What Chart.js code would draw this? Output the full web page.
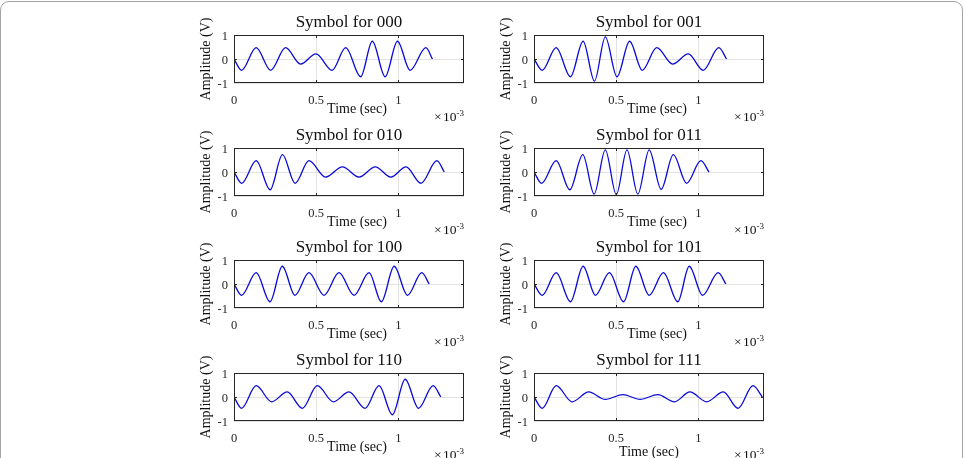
<!DOCTYPE html>
<html>
<head>
<meta charset="utf-8">
<script src="https://cdn.jsdelivr.net/npm/chart.js@4.4.0/dist/chart.umd.min.js"></script>
<style>
  html, body { margin: 0; padding: 0; background: #fff; overflow: hidden; }
  #frame { position: absolute; left: 0; top: 1px; width: 961px; height: 480px; border: 1px solid #a3a3a3; border-radius: 9px; }
  canvas { position: absolute; }
</style>
</head>
<body>
<div id="frame"></div>
<script>
const symbols = ['000', '001', '010', '011', '100', '101', '110', '111'];

// turning points of each waveform, time in units of 1e-3 s, amplitude in V
const t000 = [0, 0.046, 0.135, 0.223, 0.314, 0.405, 0.499, 0.597, 0.68, 0.771, 0.842, 0.92, 0.995, 1.072, 1.168, 1.208];
const a000 = [0, -0.47, 0.47, -0.47, 0.47, -0.21, 0.21, -0.47, 0.47, -0.74, 0.74, -0.74, 0.74, -0.47, 0.47, 0];

const t001 = [0, 0.05, 0.135, 0.222, 0.299, 0.368, 0.434, 0.505, 0.582, 0.659, 0.747, 0.844, 0.939, 1.03, 1.125, 1.172];
const a001 = [0, -0.47, 0.47, -0.74, 0.74, -0.92, 0.92, -0.74, 0.74, -0.47, 0.47, -0.21, 0.21, -0.47, 0.47, 0];

const t010 = [0, 0.047, 0.135, 0.22, 0.295, 0.372, 0.456, 0.557, 0.66, 0.761, 0.86, 0.955, 1.047, 1.138, 1.235, 1.28];
const a010 = [0, -0.47, 0.47, -0.74, 0.72, -0.47, 0.47, -0.21, 0.21, -0.21, 0.21, -0.21, 0.21, -0.47, 0.47, 0];

const t011 = [0, 0.046, 0.135, 0.218, 0.297, 0.366, 0.434, 0.501, 0.566, 0.632, 0.701, 0.774, 0.848, 0.929, 1.016, 1.065];
const a011 = [0, -0.47, 0.47, -0.74, 0.72, -0.92, 0.92, -0.94, 0.92, -0.92, 0.92, -0.72, 0.72, -0.47, 0.47, 0];

const t100 = [0, 0.046, 0.135, 0.219, 0.294, 0.371, 0.456, 0.548, 0.639, 0.731, 0.822, 0.897, 0.975, 1.056, 1.143, 1.188];
const a100 = [0, -0.47, 0.47, -0.74, 0.74, -0.47, 0.47, -0.47, 0.47, -0.47, 0.47, -0.74, 0.74, -0.47, 0.47, 0];

const t101 = [0, 0.05, 0.135, 0.222, 0.299, 0.374, 0.459, 0.545, 0.62, 0.701, 0.788, 0.875, 0.945, 1.026, 1.121, 1.168];
const a101 = [0, -0.47, 0.47, -0.74, 0.74, -0.47, 0.47, -0.74, 0.74, -0.47, 0.47, -0.74, 0.74, -0.47, 0.47, 0];

const t110 = [0, 0.046, 0.135, 0.229, 0.324, 0.416, 0.507, 0.605, 0.7, 0.798, 0.883, 0.964, 1.042, 1.123, 1.212, 1.259];
const a110 = [0, -0.47, 0.47, -0.2, 0.21, -0.47, 0.47, -0.2, 0.21, -0.47, 0.47, -0.74, 0.74, -0.47, 0.47, 0];

const t111 = [0, 0.05, 0.135, 0.232, 0.333, 0.434, 0.541, 0.646, 0.754, 0.855, 0.949, 1.051, 1.152, 1.242, 1.333, 1.39];
const a111 = [0, -0.47, 0.47, -0.2, 0.21, -0.1, 0.1, -0.1, 0.1, -0.2, 0.21, -0.2, 0.21, -0.47, 0.47, 0];

const times = [t000, t001, t010, t011, t100, t101, t110, t111];
const amps = [a000, a001, a010, a011, a100, a101, a110, a111];

const xTicks = [0, 0.5, 1];
const xTickLabels = ['0', '0.5', '1'];
const yTicks = [-1, 0, 1];
const yTickLabels = ['-1', '0', '1'];

// panel layout (canvas position)
const colLeft = [174, 474];
const rowTop = [5, 118, 230, 343];

Chart.defaults.font.family = '"Liberation Serif", serif';
Chart.defaults.color = '#262626';

// MATLAB style box, inward ticks, title and axis labels
const panelText = {
  id: 'panelText',
  afterDraw(chart, args, o) {
    const ctx = chart.ctx;
    const a = chart.chartArea;
    const cx = (a.left + a.right) / 2;
    const cy = (a.top + a.bottom) / 2;
    const xs = chart.scales.x, ys = chart.scales.y;
    ctx.save();
    ctx.strokeStyle = '#262626';
    ctx.lineWidth = 1;
    ctx.strokeRect(a.left + 0.5, a.top + 0.5, a.right - a.left - 1, a.bottom - a.top - 1);
    ctx.beginPath();
    xTicks.slice(1).forEach(v => {
      const px = Math.round(xs.getPixelForValue(v)) + 0.5;
      ctx.moveTo(px, a.bottom); ctx.lineTo(px, a.bottom - 3);
      ctx.moveTo(px, a.top); ctx.lineTo(px, a.top + 3);
    });
    const py = Math.round(ys.getPixelForValue(0)) + 0.5;
    ctx.moveTo(a.left, py); ctx.lineTo(a.left + 3, py);
    ctx.moveTo(a.right, py); ctx.lineTo(a.right - 3, py);
    ctx.stroke();

    ctx.fillStyle = '#111';
    ctx.textBaseline = 'alphabetic';
    ctx.textAlign = 'center';
    ctx.font = '17px "Liberation Serif"';
    ctx.fillText(o.title, cx, a.top - 8);
    ctx.font = '14px "Liberation Serif"';
    ctx.fillText('Time (sec)', cx + o.xShift, a.bottom + o.xDrop);

    ctx.textAlign = 'right';
    ctx.font = '9px "Liberation Serif"';
    ctx.fillText('-3', a.right, a.bottom + 33);
    const sw = ctx.measureText('-3').width;
    ctx.font = '13.5px "Liberation Serif"';
    ctx.fillText('10', a.right - sw, a.bottom + 38);
    const tw = ctx.measureText('10').width;
    ctx.fillText('\u00d7', a.right - sw - tw - 1.5, a.bottom + 38);

    ctx.translate(a.left - 24, cy);
    ctx.rotate(-Math.PI / 2);
    ctx.textAlign = 'center';
    ctx.font = '14px "Liberation Serif"';
    ctx.fillText('Amplitude (V)', 0, 0);
    ctx.restore();
  }
};

symbols.forEach((s, i) => {
  const cv = document.createElement('canvas');
  cv.width = 300;
  cv.height = 123;
  cv.style.left = colLeft[i % 2] + 'px';
  cv.style.top = rowTop[Math.floor(i / 2)] + 'px';
  document.body.appendChild(cv);
  const last = s === '111';

  new Chart(cv, {
    type: 'line',
    data: {
      datasets: [{
        data: times[i].map((t, k) => ({ x: t, y: amps[i][k] })),
        borderColor: '#0a0ad8',
        borderWidth: 1.3,
        pointRadius: 0,
        cubicInterpolationMode: 'monotone',
        fill: false
      }]
    },
    options: {
      responsive: false,
      animation: false,
      layout: { padding: { top: 30, right: 10, left: 0, bottom: 0 } },
      plugins: {
        legend: { display: false },
        tooltip: { enabled: false },
        panelText: { title: 'Symbol for ' + s, xShift: last ? 0 : 8, xDrop: last ? 35 : 30 }
      },
      scales: {
        x: {
          type: 'linear',
          min: 0,
          max: 1.4,
          afterFit: sc => { sc.height = 45; },
          afterBuildTicks: sc => { sc.ticks = xTicks.map(v => ({ value: v })); },
          ticks: {
            callback: (v, idx) => xTickLabels[idx],
            padding: 10,
            font: { size: 12.5 },
            maxRotation: 0,
            autoSkip: false
          },
          grid: { color: '#e2e2e2', drawTicks: false },
          border: { display: false }
        },
        y: {
          type: 'linear',
          min: -1,
          max: 1,
          afterFit: sc => { sc.width = 60; },
          afterBuildTicks: sc => { sc.ticks = yTicks.map(v => ({ value: v })); },
          ticks: {
            callback: (v, idx) => yTickLabels[idx],
            padding: 6,
            labelOffset: 2,
            font: { size: 12.5 }
          },
          grid: { color: '#e2e2e2', drawTicks: false },
          border: { display: false }
        }
      }
    },
    plugins: [panelText]
  });
});
</script>
</body>
</html>
